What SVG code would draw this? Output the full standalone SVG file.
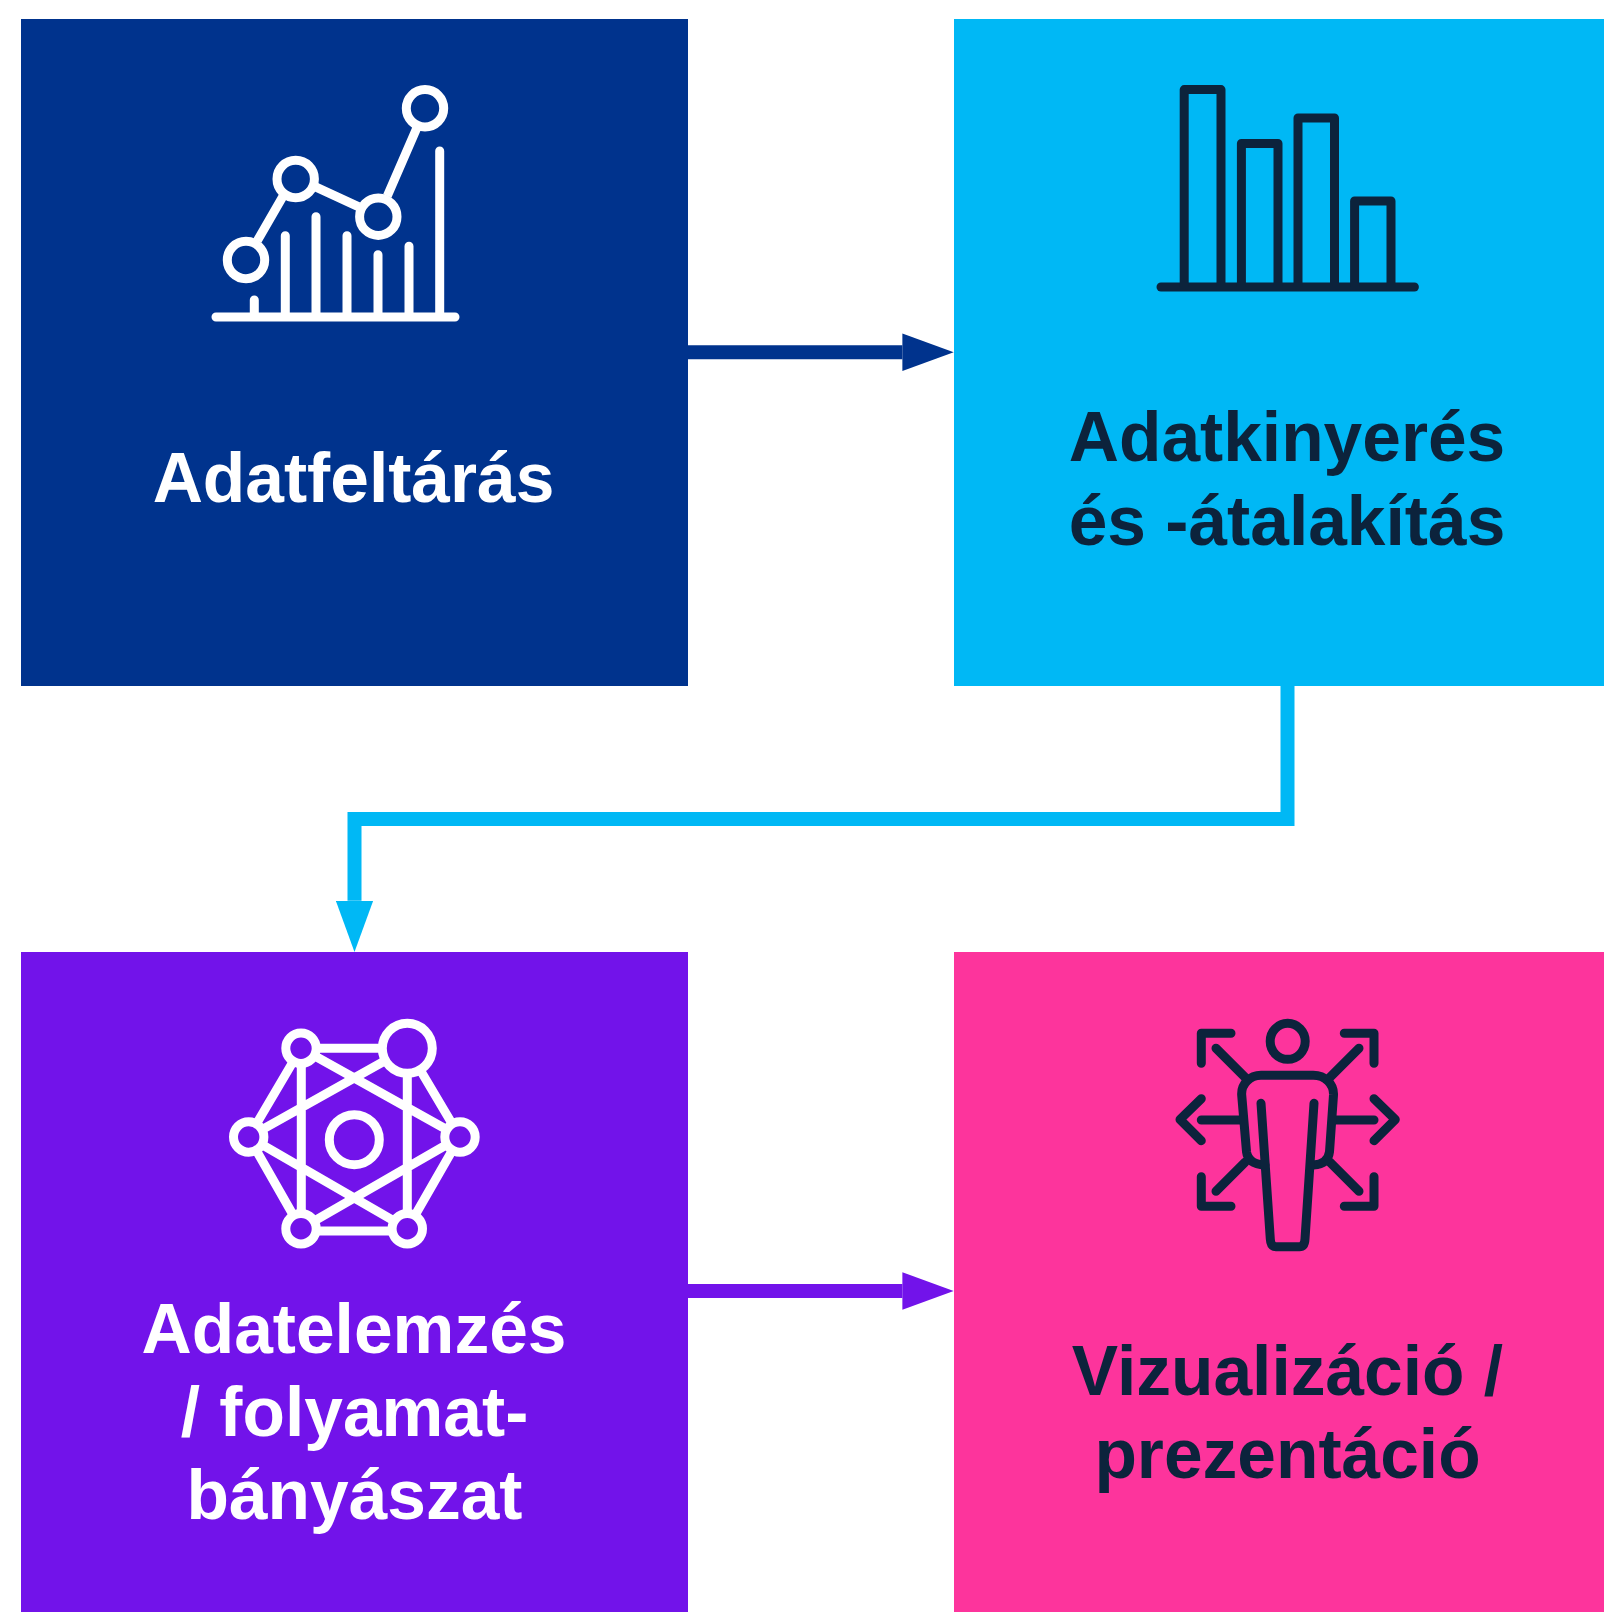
<svg xmlns="http://www.w3.org/2000/svg" width="1604" height="1612" viewBox="0 0 1604 1612">
<style>
.t{font-family:"Liberation Sans",Arial,sans-serif;font-weight:700;font-size:69.5px;text-anchor:middle}
.w{fill:#fff}.d{fill:#0C233C}
.iw{fill:none;stroke:#fff;stroke-width:9;stroke-linecap:round;stroke-linejoin:round}
.id{fill:none;stroke:#0C233C;stroke-width:9;stroke-linecap:round;stroke-linejoin:round}
.c{fill:none;stroke-width:14}
</style>
<defs>
<marker id="aN" markerUnits="userSpaceOnUse" markerWidth="52" markerHeight="38" refX="0" refY="19" orient="auto"><path d="M0,.3L51.3,19L0,37.7z" fill="#00338D"/></marker>
<marker id="aC" markerUnits="userSpaceOnUse" markerWidth="52" markerHeight="38" refX="0" refY="19" orient="auto"><path d="M0,.3L51.3,19L0,37.7z" fill="#00B8F5"/></marker>
<marker id="aP" markerUnits="userSpaceOnUse" markerWidth="52" markerHeight="38" refX="0" refY="19" orient="auto"><path d="M0,.3L51.3,19L0,37.7z" fill="#7213EA"/></marker>
</defs>
<rect width="1604" height="1612" fill="#fff"/>
<g id="node-adatfeltaras">
<rect x="21" y="19" width="667" height="667" fill="#00338D"/>
<g class="iw">
<circle cx="425" cy="108.3" r="18.7"/><circle cx="295.7" cy="179" r="18.7"/><circle cx="378.3" cy="216.7" r="18.7"/><circle cx="246" cy="260" r="18.7"/>
<path stroke-linecap="butt" d="M257.3,240.7L282.7,196.7M315,186.7L358.3,206.7M387.3,196L416.7,128.3"/>
<path d="M216,317H455M254.3,317V300M285.3,317V235.7M316,317V216.7M347,317V235.7M378,317V254.7M409,317V246.3M439.7,317V151"/>
</g>
<text class="t w" x="353.5" y="502">Adatfeltárás</text>
</g>
<g id="node-adatkinyeres">
<rect x="954" y="19" width="650" height="667" fill="#00B8F5"/>
<g class="id">
<path d="M1161,287H1414.4"/>
<path stroke-linecap="butt" d="M1184.2,287V89.6H1221V287M1241.4,287V143.5H1278V287M1298,287V118H1334.5V287M1354.6,287V201H1391V287"/>
</g>
<text class="t d" x="1287" y="461">Adatkinyerés</text>
<text class="t d" x="1287" y="545">és -átalakítás</text>
</g>
<g id="node-adatelemzes">
<rect x="21" y="952" width="667" height="660" fill="#7213EA"/>
<g class="iw">
<path stroke-linecap="butt" d="M301,1048.3H407.3M301,1048.3L248.7,1137M407.3,1048.3L460,1137M248.7,1137L301,1228.7M460,1137L407.3,1228.7M301,1231H407.3M301.3,1048.3V1228.7M407.3,1048.3V1228.7M301,1048.3L460,1137M407.3,1048.3L248.7,1137M248.7,1137L407.3,1228.7M460,1137L301,1228.7"/>
<g fill="#7213EA">
<circle cx="301" cy="1048.3" r="15.2"/><circle cx="407.3" cy="1048.3" r="25"/><circle cx="248.7" cy="1137" r="15.2"/><circle cx="460" cy="1137" r="15.2"/><circle cx="301" cy="1228.7" r="15.2"/><circle cx="407.3" cy="1228.7" r="15.2"/>
</g>
<circle cx="354.3" cy="1139.7" r="25"/>
</g>
<text class="t w" x="354" y="1352.5">Adatelemzés</text>
<text class="t w" x="354.5" y="1436">/ folyamat-</text>
<text class="t w" x="354.5" y="1519">bányászat</text>
</g>
<g id="node-vizualizacio">
<rect x="954" y="952" width="650" height="660" fill="#FD349C"/>
<g class="id">
<ellipse cx="1287.7" cy="1041.3" rx="17.5" ry="18"/>
<path d="M1201.3,1063.3V1033.3H1231M1344.3,1033.3H1374V1063.3M1201.3,1176.7V1206.3H1231M1344.3,1206.3H1374V1176.7"/>
<path d="M1216,1048.3L1245,1077.3M1359,1048.3L1330,1077.3M1216,1191.3L1245,1162.3M1359,1191.3L1330,1162.3M1201.3,1120H1240M1335,1120H1374"/>
<path d="M1201.3,1098.7L1180,1119.5L1201.3,1140.7M1374,1098.7L1395.3,1119.5L1374,1140.7"/>
<path d="M1265,1165Q1248,1164 1246.5,1151.7L1241.7,1095C1241,1084 1250,1075.3 1261,1075.3H1313.3C1325,1075.3 1334,1084 1333.5,1095L1329.5,1151.7Q1328,1164 1313.5,1165"/>
<path d="M1261,1103.3L1270.3,1239Q1270.8,1246.7 1276,1246.7H1299.5Q1304.6,1246.7 1305,1239L1314,1103.3"/>
</g>
<text class="t d" x="1287.5" y="1394.5">Vizualizáció /</text>
<text class="t d" x="1287.5" y="1477.5">prezentáció</text>
</g>
<g id="connectors">
<path class="c" stroke="#00338D" marker-end="url(#aN)" d="M688,352.3H902.4"/>
<path class="c" stroke="#00B8F5" marker-end="url(#aC)" d="M1287.5,686V819H354.5V900.7"/>
<path class="c" stroke="#7213EA" marker-end="url(#aP)" d="M688,1291H902.4"/>
</g>
</svg>
